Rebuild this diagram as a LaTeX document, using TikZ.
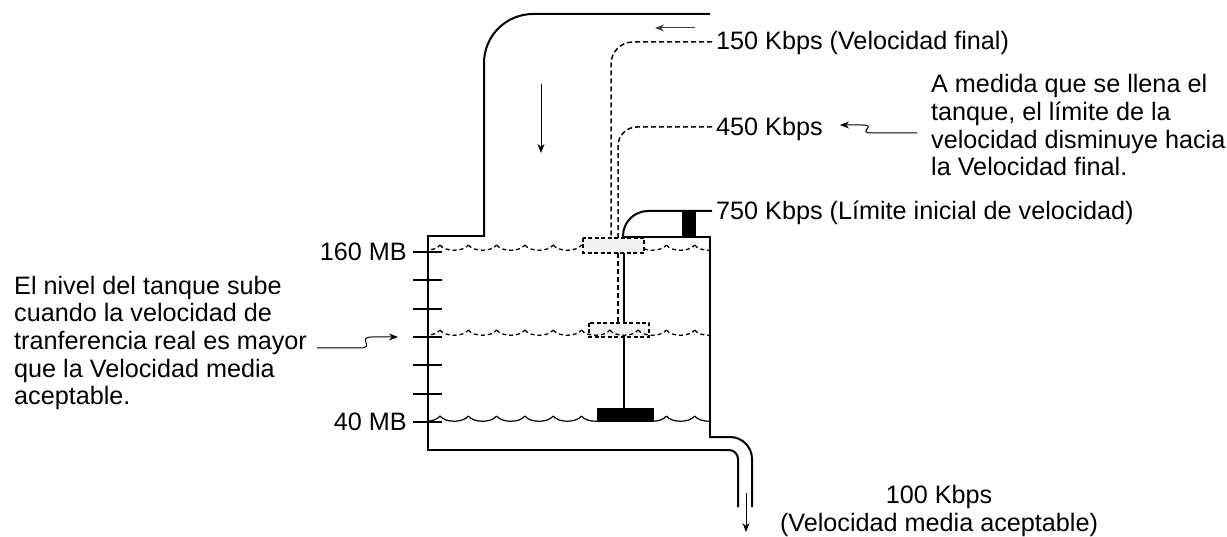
\documentclass[tikz,border=0pt]{standalone}
\usepackage{fontspec}
\setmainfont{Liberation Sans}
\usetikzlibrary{arrows.meta}
\begin{document}
\begin{tikzpicture}[x=1pt,y=-1pt,
  wall/.style={line width=2pt},
  dsh/.style={line width=1.5pt, dash pattern=on 5pt off 3pt},
  thinarrow/.style={line width=1pt, -{Stealth[length=9pt,width=7pt]}},
  lbl/.style={inner sep=0pt, font=\fontsize{25.2}{27.7}\selectfont},
  floatbox/.style={line width=1.4pt, dash pattern=on 4pt off 2.5pt, fill=gray!12},
  tick/.style={line width=1.8pt},
  wavedash/.style={line width=1.3pt, dash pattern=on 4pt off 3pt}
]
\useasboundingbox (0,0) rectangle (1227,537);

% inlet and tank
\draw[wall] (484,236) -- (428,236) -- (428,450) -- (731,450);
\draw[wall, rounded corners=49pt] (484,237) -- (484,14) -- (710,14);
\draw[wall] (623,237) -- (710,237) -- (710,438);
\draw[wall, rounded corners=22pt] (709,437) -- (752,437) -- (752,507);
\draw[wall, rounded corners=9pt] (720,450) -- (738,450) -- (738,507);

% 750 Kbps pipe
\draw[wall, rounded corners=25pt] (623,238) -- (623,211) -- (712,211);
\fill (682,211) rectangle (696,237);

% rod
\draw[line width=1.5pt] (624,238) -- (624,410);

% dashed limit lines
\draw[dsh, rounded corners=22pt] (712,42) -- (611,42) -- (611,238);
\draw[dsh, rounded corners=19pt] (712,127) -- (618,127) -- (618,238);
\draw[dsh] (618,253) -- (618,323);

% lower float
\draw[floatbox] (589,323) rectangle (649,337);

% waves
\begin{scope}
\clip (429,200) rectangle (709,460);
\foreach \c in {0,...,11} {
  \pgfmathsetmacro{\xa}{411.7+28.3*\c}
  \draw[line width=1.2pt] (\xa,416) .. controls (\xa+5,423) and (\xa+23.3,423) .. (\xa+28.3,416);
  \draw[wavedash] (\xa,330) .. controls (\xa+5,337) and (\xa+23.3,337) .. (\xa+28.3,330);
  \draw[wavedash] (\xa,245) .. controls (\xa+5,252) and (\xa+23.3,252) .. (\xa+28.3,245);
}
\end{scope}

% upper float and weight
\draw[floatbox] (583,238) rectangle (644,253);
\fill (597,408) rectangle (654,422);

% ticks
\foreach \k in {0,...,6} \draw[tick] (413,{252+28.333*\k}) -- (442,{252+28.333*\k});

% flow arrows
\coordinate (ta1) at (695,28); \coordinate (ta2) at (655,28);
\draw[thinarrow, draw=black!75] (ta1) -- (ta2);
\coordinate (da1) at (541,84); \coordinate (da2) at (541,153);
\draw[thinarrow] (da1) -- (da2);
\coordinate (oa1) at (746,493); \coordinate (oa2) at (746,532);
\draw[thinarrow] (oa1) -- (oa2);

% labels
\node[lbl, anchor=base east] (l160) at (407,261) {160 MB};
\node[lbl, anchor=base east] (l40) at (407,431) {40 MB};
\node[lbl, anchor=base west] (l150) at (716,50) {150 Kbps (Velocidad final)};
\node[lbl, anchor=base west] (l450) at (716,136) {450 Kbps};
\node[lbl, anchor=base west] (l750) at (716,220) {750 Kbps (Límite inicial de velocidad)};
\node[lbl, anchor=base west, align=left] (rnote) at (931,176) {A medida que se llena el\\tanque, el límite de la\\velocidad disminuye hacia\\la Velocidad final.};
\node[lbl, anchor=base west, align=left] (lnote) at (14,405) {El nivel del tanque sube\\cuando la velocidad de\\tranferencia real es mayor\\que la Velocidad media\\aceptable.};
\node[lbl, anchor=base, align=center] (l100) at (939,531) {100 Kbps\\(Velocidad media aceptable)};

% note arrows
\coordinate (la1) at (317,348); \coordinate (la2) at (398,337);
\draw[thinarrow] (la1) -- (360,348) .. controls (376,348) and (356,337) .. (372,337) -- (la2);
\coordinate (ra1) at (917,133); \coordinate (ra2) at (840,125);
\draw[thinarrow] (ra1) -- (872,133) .. controls (856,133) and (878,125) .. (862,125) -- (ra2);
\end{tikzpicture}
\end{document}
